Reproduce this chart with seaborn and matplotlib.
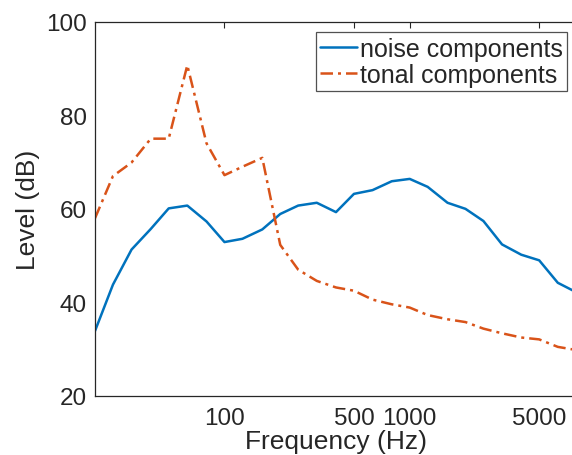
import numpy as np
import pandas as pd
import matplotlib
matplotlib.use("Agg")
import matplotlib.pyplot as plt
from matplotlib.lines import Line2D
import seaborn as sns

# One-third octave band centre frequencies (Hz)
freqs = [20, 25, 31.5, 40, 50, 63, 80, 100, 125, 160, 200, 250, 315, 400, 500,
         630, 800, 1000, 1250, 1600, 2000, 2500, 3150, 4000, 5000, 6300, 8000]

noise_db = [33.9, 43.8, 51.3, 55.7, 60.1, 60.7, 57.3, 52.9, 53.6, 55.6, 58.9,
            60.7, 61.3, 59.3, 63.2, 64.0, 65.9, 66.4, 64.7, 61.3, 60.0, 57.4,
            52.4, 50.2, 49.0, 44.2, 42.1]

tonal_db = [58.0, 67.0, 69.9, 75.0, 75.0, 90.7, 74.0, 67.2, 69.0, 70.9, 52.3,
            47.0, 44.6, 43.2, 42.5, 40.6, 39.6, 38.9, 37.3, 36.4, 35.8, 34.4,
            33.4, 32.5, 32.1, 30.5, 29.8]

series_names = ["noise components", "tonal components"]
x_ticks = [100, 500, 1000, 5000]
y_ticks = [20, 40, 60, 80, 100]

df = pd.DataFrame({
    "freq": freqs * 2,
    "level": noise_db + tonal_db,
    "series": [series_names[0]] * len(freqs) + [series_names[1]] * len(freqs),
})

sns.set_style("white")
plt.rcParams["font.family"] = ["Liberation Sans", "DejaVu Sans"]

W, H = 572, 456
fig = plt.figure(figsize=(W / 100, H / 100), dpi=100)
ax = fig.add_axes([95 / W, (H - 397) / H, (577 - 95) / W, (397 - 22.7) / H])

blue, orange = "#0072BD", "#D95319"
dashdot = (0, (5, 2, 1.2, 2))
palette = {series_names[0]: blue, series_names[1]: orange}
sns.lineplot(data=df, x="freq", y="level", hue="series", palette=palette,
             ax=ax, linewidth=1.8, legend=False)
# tonal curve is drawn dash-dot
ax.lines[1].set_linestyle(dashdot)

ax.set_xscale("log")
ax.set_xlim(20, 8000)
ax.set_ylim(20, 100)
ax.set_xticks(x_ticks)
ax.set_xticklabels([str(t) for t in x_ticks])
ax.minorticks_off()
ax.set_yticks(y_ticks)

tc = "#262626"
ax.tick_params(direction="in", top=True, right=False, length=4, width=0.8,
               colors=tc, labelsize=17.5)
ax.tick_params(axis="y", pad=6)
ax.tick_params(axis="x", pad=8)
for s in ax.spines.values():
    s.set_color(tc)
    s.set_linewidth(0.9)

ax.set_xlabel("Frequency (Hz)", fontsize=19, color=tc, labelpad=0)
ax.set_ylabel("Level (dB)", fontsize=19, color=tc, labelpad=4)

handles = [Line2D([], [], color=blue, lw=1.8),
           Line2D([], [], color=orange, lw=1.8, ls=dashdot)]
leg = ax.legend(handles, series_names, loc="upper right",
                bbox_to_anchor=(567 / W, 1 - 33 / H), bbox_transform=fig.transFigure,
                fontsize=18, frameon=True, fancybox=False, handlelength=1.45,
                handletextpad=0.12, borderpad=0.18, labelspacing=0.08,
                borderaxespad=0)
leg.get_frame().set_edgecolor(tc)
leg.get_frame().set_linewidth(0.9)

fig.savefig("out.png", dpi=100)
